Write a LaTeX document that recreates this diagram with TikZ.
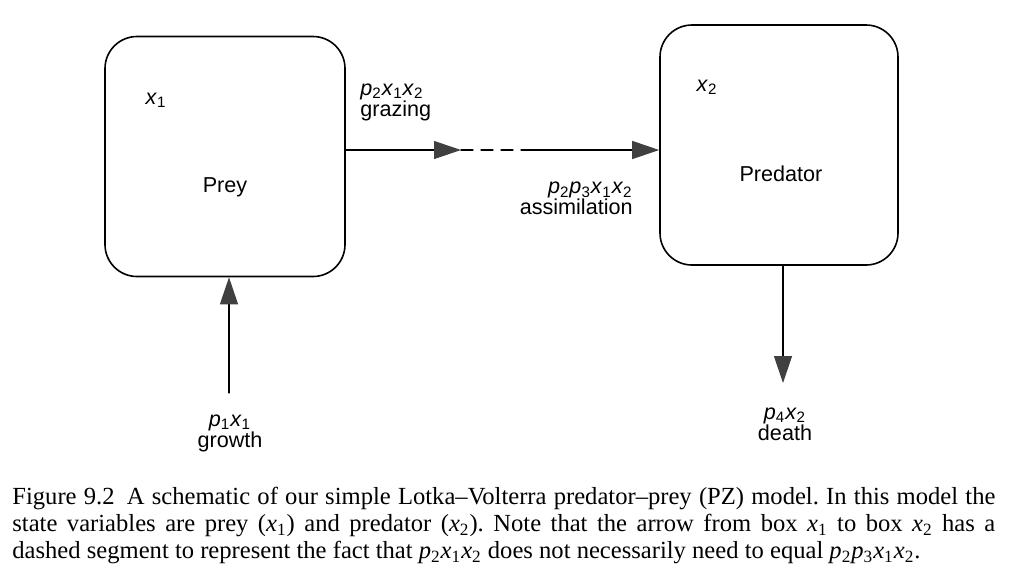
\documentclass[tikz,border=0pt]{standalone}
\usepackage{fontspec}
\setmainfont{Liberation Serif}
\setsansfont{Liberation Sans}
\usetikzlibrary{arrows.meta}
\newcommand{\vsub}[2]{\textit{#1}\textsubscript{#2}}

\begin{document}
\begin{tikzpicture}[x=0.5pt,y=-0.5pt,>={Triangle[length=13.5pt,width=9pt,color=black!75]},line cap=round,
  box/.style={draw,line width=0.8pt,rounded corners=16pt,minimum width=#1,minimum height=120pt,inner sep=0pt},
  lbl/.style={font=\sffamily\fontsize{10.8}{10.5}\selectfont,inner sep=0pt},
  flow/.style={->,line width=0.6pt}]
\useasboundingbox (0,0) rectangle (1034,586);
% compartments
\node[box=120pt] (prey) at (225,156.5) {};
\node[box=119pt] (pred) at (779,145) {};
\node[lbl,anchor=base] (x1) at (156,104) {\vsub{x}{1}};
\node[lbl,anchor=base] (preylbl) at (225,192) {Prey};
\node[lbl,anchor=base] (x2) at (707,91) {\vsub{x}{2}};
\node[lbl,anchor=base] (predlbl) at (781,181) {Predator};
% grazing / assimilation flux
\coordinate (gz) at (461,150);
\coordinate (dz) at (532,150);
\draw[flow] (prey.east |- gz) -- (gz);
\draw[line width=0.6pt,dash pattern=on 6pt off 4pt] (gz) -- (dz);
\draw[flow] (dz) -- (pred.west |- gz);
\node[lbl,anchor=west,align=left] (grazing) at (360,102.5) {\vsub{p}{2}\vsub{x}{1}\vsub{x}{2}\\grazing};
\node[lbl,anchor=east,align=right] (assim) at (633,198.5) {\vsub{p}{2}\vsub{p}{3}\vsub{x}{1}\vsub{x}{2}\\assimilation};
% growth and death
\coordinate (gr) at (229,393);
\draw[flow] (gr) -- (prey.south -| gr);
\node[lbl,align=center] (growth) at (230,433) {\vsub{p}{1}\vsub{x}{1}\\growth};
\coordinate (dt) at (783,383);
\draw[flow] (pred.south -| dt) -- (dt);
\node[lbl,align=center] (death) at (785,424) {\vsub{p}{4}\vsub{x}{2}\\death};
% caption
\node[anchor=north west,text width=491.5pt,align=justify,inner sep=0pt,font=\fontsize{12.3}{13.5}\selectfont] (caption) at (12,487) {\noindent\frenchspacing Figure 9.2\enspace A schematic of our simple Lotka--Volterra predator--prey (PZ) model. In this model the\linebreak state variables are prey (\vsub{x}{1}) and predator (\vsub{x}{2}). Note that the arrow from box \vsub{x}{1} to box \vsub{x}{2} has a\linebreak dashed segment to represent the fact that \vsub{p}{2}\vsub{x}{1}\vsub{x}{2} does not necessarily need to equal \vsub{p}{2}\vsub{p}{3}\vsub{x}{1}\vsub{x}{2}.};
\end{tikzpicture}
\end{document}
